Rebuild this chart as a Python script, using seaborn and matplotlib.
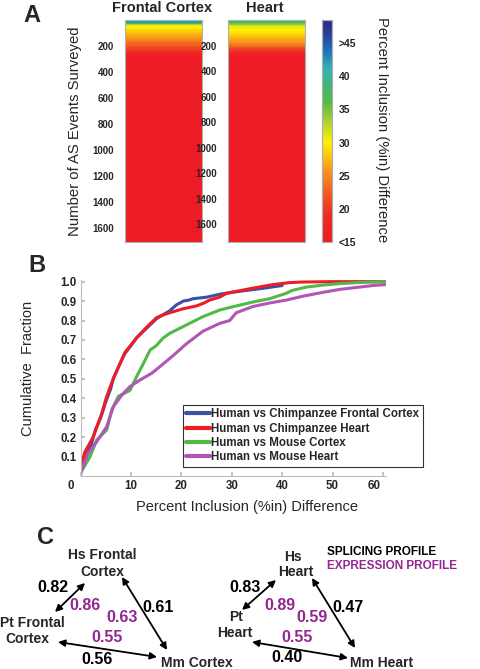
import numpy as np
import pandas as pd
import matplotlib
matplotlib.use("Agg")
import matplotlib.pyplot as plt
import matplotlib.transforms as mtransforms
from matplotlib.colors import LinearSegmentedColormap
import seaborn as sns

# ---------------- DATA ----------------
# Panel A: sorted %in differences, one value per block of 10 AS events (top of list),
# remaining events are below 15
fc_top = [47, 42, 37, 33, 31, 30, 29.5, 29, 28.5, 28, 27.5, 27, 26.5, 26, 25.5, 25,
          24, 23.5, 23, 22.5, 22, 21, 20.5, 20, 19, 18, 17, 16, 15.5]
fc_total = 1710
heart_top = [47, 38, 35, 34, 32, 31, 30.5, 30, 30, 29.5, 29, 28.5, 28, 27.5, 27, 26.5,
             26, 25.5, 25, 24, 23, 22, 21, 20, 19, 18, 17, 16, 15.5]
heart_total = 1740
low_value = 14
heat_ticks = [200, 400, 600, 800, 1000, 1200, 1400, 1600]
cbar_ticks = [15, 20, 25, 30, 35, 40, 45]
cbar_labels = ["<15", "20", "25", "30", "35", "40", ">45"]

# Panel B: cumulative fraction curves
blue_x = [0, 0.5, 1, 2, 3, 4, 5, 6, 6.5, 7.5, 8.8, 10, 11.1, 13.1, 15.1, 17.7, 19, 20.4,
          21.5, 22.3, 25, 27.6, 30, 33, 36, 40]
blue_y = [0.02, 0.06, 0.1, 0.15, 0.24, 0.3, 0.38, 0.45, 0.5, 0.56, 0.63, 0.67, 0.71, 0.76,
          0.81, 0.85, 0.88, 0.90, 0.905, 0.912, 0.92, 0.935, 0.945, 0.955, 0.965, 0.98]
red_x = [0, 0.9, 2.5, 4.2, 5.2, 6.5, 8.8, 11.1, 13.1, 15.1, 16.5, 17.7, 20.3, 23, 24.5,
         25.6, 27.6, 29, 30.9, 34.9, 38.2, 41.5, 44, 50, 55, 60.5]
red_y = [0.05, 0.125, 0.2, 0.32, 0.41, 0.5, 0.635, 0.71, 0.765, 0.815, 0.83, 0.84, 0.86,
         0.875, 0.89, 0.905, 0.92, 0.94, 0.95, 0.97, 0.985, 0.995, 0.998, 1.0, 1.0, 1.0]
green_x = [0, 1.9, 3.2, 5.2, 6.2, 7.5, 9.8, 11.1, 12.5, 13.8, 15, 16.4, 17.7, 21, 24.3,
           27.6, 30.9, 34.2, 37.5, 40.8, 42, 44.8, 48, 51.4, 55, 60.6]
green_y = [0.015, 0.1, 0.185, 0.237, 0.34, 0.41, 0.44, 0.51, 0.58, 0.648, 0.67, 0.71,
           0.734, 0.777, 0.82, 0.854, 0.875, 0.895, 0.912, 0.94, 0.955, 0.972, 0.982,
           0.99, 0.995, 1.0]
mag_x = [0, 0.2, 1.5, 3.2, 5.2, 6.5, 8.2, 9.8, 11.8, 14.1, 15.7, 18.4, 21, 22, 24.3,
         27.6, 29.6, 30.9, 34.2, 37.5, 40.8, 44.1, 48.1, 51.4, 54.7, 58, 60.5]
mag_y = [0.0, 0.03, 0.117, 0.176, 0.254, 0.356, 0.417, 0.46, 0.494, 0.528, 0.562, 0.62,
         0.68, 0.7, 0.745, 0.785, 0.8, 0.84, 0.872, 0.89, 0.905, 0.925, 0.945, 0.96,
         0.97, 0.98, 0.985]
series_names = ["Human vs Chimpanzee Frontal Cortex", "Human vs Chimpanzee Heart",
                "Human vs Mouse Cortex", "Human vs Mouse Heart"]
series_colors = ["#3A4FA6", "#EE1D23", "#52B848", "#B355B4"]
x_ticks = [0, 10, 20, 30, 40, 50, 60]
y_ticks = [0.1, 0.2, 0.3, 0.4, 0.5, 0.6, 0.7, 0.8, 0.9, 1.0]

# Panel C: correlation networks
splice_left = ["0.82", "0.61", "0.56"]
expr_left = ["0.86", "0.63", "0.55"]
splice_right = ["0.83", "0.47", "0.40"]
expr_right = ["0.89", "0.59", "0.55"]

# ---------------- STYLE ----------------
sns.set_theme(style="white")
plt.rcParams["font.family"] = ["Liberation Sans", "DejaVu Sans"]
PURPLE = "#92278F"
W, H = 480, 669
fig = plt.figure(figsize=(W / 100, H / 100), dpi=100)


def px_axes(x0, y0, x1, y1):
    return fig.add_axes([x0 / W, 1 - y1 / H, (x1 - x0) / W, (y1 - y0) / H])


# overlay axes in pixel coordinates for free text / arrows
axc = fig.add_axes([0, 0, 1, 1])
axc.set_xlim(0, W)
axc.set_ylim(H, 0)
axc.axis("off")
axc.patch.set_alpha(0)

# ---------------- PANEL A ----------------
cmap = LinearSegmentedColormap.from_list("rev_jet", [
    (0.0, "#ED1C24"), (0.12, "#EE2A24"), (0.22, "#F15A22"), (0.32, "#F7941D"),
    (0.45, "#FFF200"), (0.55, "#A6CE39"), (0.63, "#57B947"), (0.72, "#3DB57A"),
    (0.78, "#35B3B5"), (0.86, "#1C75BC"), (0.95, "#2B3990"), (1.0, "#262E84")])


def column(top, total):
    vals = np.concatenate([np.repeat(top, 10), np.full(total - 10 * len(top), low_value)])
    return pd.DataFrame({"v": vals})


ax_fc = px_axes(125, 20, 202, 242)
ax_ht = px_axes(228, 20, 305, 242)
cax = px_axes(322, 20, 332, 242)

sns.heatmap(column(fc_top, fc_total), ax=ax_fc, cmap=cmap, vmin=15, vmax=48.5,
            cbar=False, xticklabels=False, yticklabels=False, rasterized=True)
sns.heatmap(column(heart_top, heart_total), ax=ax_ht, cmap=cmap, vmin=15, vmax=48.5,
            cbar=True, cbar_ax=cax, xticklabels=False, yticklabels=False, rasterized=True)

for a in (ax_fc, ax_ht):
    a.set_yticks(heat_ticks)
    a.set_yticklabels([str(t) for t in heat_ticks], fontsize=7, fontweight="bold",
                      rotation=0)
    a.tick_params(axis="y", left=False, pad=2)
    a.set_xticks([])
    a.set_ylabel("")
    for s in a.spines.values():
        s.set_visible(True)
        s.set_color("#b0b0b0")
        s.set_linewidth(0.8)

cax.set_yticks(cbar_ticks)
cax.set_yticklabels(cbar_labels, fontsize=7.5, fontweight="bold")
cax.tick_params(axis="y", direction="in", length=2.5, color="#777777", pad=5, right=True)
for s in cax.spines.values():
    s.set_visible(True)
    s.set_color("#b0b0b0")
    s.set_linewidth(0.8)

axc.text(32, 15, "A", fontsize=17, fontweight="bold", ha="center", va="center")
axc.text(162, 8, "Frontal Cortex", fontsize=10.5, fontweight="bold", ha="center", va="center")
axc.text(265, 8, "Heart", fontsize=10.5, fontweight="bold", ha="center", va="center")
axc.text(75, 131, "Number of AS Events Surveyed", fontsize=10.7, rotation=90,
         ha="center", va="center")
axc.text(382, 130, "Percent Inclusion (%in) Difference", fontsize=10.7, rotation=270,
         ha="center", va="center")

# ---------------- PANEL B ----------------
axb = px_axes(80.5, 279.7, 386, 476)
frames = []
for name, xs, ys in zip(series_names, [blue_x, red_x, green_x, mag_x],
                        [blue_y, red_y, green_y, mag_y]):
    frames.append(pd.DataFrame({"x": xs, "y": ys, "series": name}))
df = pd.concat(frames, ignore_index=True)
sns.lineplot(data=df, x="x", y="y", hue="series", hue_order=series_names,
             palette=series_colors, sort=False, estimator=None, lw=2.2, ax=axb)
axb.set_xlim(0, 60.6)
axb.set_ylim(0, 1.01)
axb.set_xticks(x_ticks)
axb.set_xticklabels([str(t) for t in x_ticks], fontsize=8.3, fontweight="bold")
axb.set_yticks(y_ticks)
axb.set_yticklabels([f"{t:.1f}" for t in y_ticks], fontsize=8.3, fontweight="bold")
axb.set_xlabel("")
axb.set_ylabel("")
axb.tick_params(direction="in", length=3, color="#bbbbbb", pad=3, left=True, bottom=True)
for side in ("top", "right"):
    axb.spines[side].set_visible(False)
for side in ("left", "bottom"):
    axb.spines[side].set_color("#bbbbbb")
    axb.spines[side].set_linewidth(0.8)
labs = axb.get_xticklabels()
labs[0].set_transform(labs[0].get_transform() +
                      mtransforms.ScaledTranslation(-10 / 100, 0, fig.dpi_scale_trans))
labs[-1].set_transform(labs[-1].get_transform() +
                       mtransforms.ScaledTranslation(-9 / 100, 0, fig.dpi_scale_trans))

leg = axb.legend(loc="upper left", bbox_to_anchor=(183 / W, 1 - 405 / H),
                 bbox_transform=fig.transFigure, borderaxespad=0, frameon=True,
                 fancybox=False, handlelength=2.0, handletextpad=0.15,
                 labelspacing=0.2, borderpad=0.3,
                 prop={"size": 8.3, "weight": "bold"})
leg.get_frame().set_edgecolor("black")
leg.get_frame().set_linewidth(0.8)
for ln in leg.get_lines():
    ln.set_linewidth(3)

axc.text(37, 266, "B", fontsize=17, fontweight="bold", ha="center", va="center")
axc.text(28, 368, "Cumulative  Fraction", fontsize=10.5, rotation=90, ha="center", va="center")
axc.text(247, 507, "Percent Inclusion (%in) Difference", fontsize=10.5, ha="center",
         va="center")

# ---------------- PANEL C ----------------
axc.text(45, 537, "C", fontsize=17, fontweight="bold", ha="center", va="center")


def arrow(p, q):
    axc.annotate("", xy=q, xytext=p,
                 arrowprops=dict(arrowstyle="<|-|>", color="black", lw=1.3,
                                 mutation_scale=10, shrinkA=0, shrinkB=0))


lab = dict(fontsize=10, fontweight="bold", ha="center", va="center")
num = dict(fontsize=11.5, fontweight="bold", ha="center", va="center")

# left network
axc.text(102, 555, "Hs Frontal", **lab)
axc.text(102, 572, "Cortex", **lab)
axc.text(32, 623, "Pt Frontal", **lab)
axc.text(27, 639, "Cortex", **lab)
axc.text(197, 663, "Mm Cortex", **lab)
arrow((55, 612), (85, 583))
arrow((122, 577), (167, 650))
arrow((58, 642), (157, 657))
axc.text(53, 588, splice_left[0], color="black", **num)
axc.text(158, 608, splice_left[1], color="black", **num)
axc.text(97, 659, splice_left[2], color="black", **num)
axc.text(85, 606, expr_left[0], color=PURPLE, **num)
axc.text(122, 617, expr_left[1], color=PURPLE, **num)
axc.text(107, 637, expr_left[2], color=PURPLE, **num)

# right network
axc.text(293, 557, "Hs", **lab)
axc.text(296, 572, "Heart", **lab)
axc.text(236, 617, "Pt", **lab)
axc.text(235, 633, "Heart", **lab)
axc.text(382, 663, "Mm Heart", **lab)
arrow((242, 610), (276, 580))
arrow((312, 578), (355, 648))
arrow((252, 642), (348, 658))
axc.text(245, 587, splice_right[0], color="black", **num)
axc.text(348, 607, splice_right[1], color="black", **num)
axc.text(287, 657, splice_right[2], color="black", **num)
axc.text(280, 605, expr_right[0], color=PURPLE, **num)
axc.text(312, 617, expr_right[1], color=PURPLE, **num)
axc.text(297, 637, expr_right[2], color=PURPLE, **num)

axc.text(327, 552, "SPLICING PROFILE", fontsize=8.5, fontweight="bold", ha="left",
         va="center", color="black")
axc.text(327, 566, "EXPRESSION PROFILE", fontsize=8.5, fontweight="bold", ha="left",
         va="center", color=PURPLE)

fig.savefig("out.png", dpi=100)
